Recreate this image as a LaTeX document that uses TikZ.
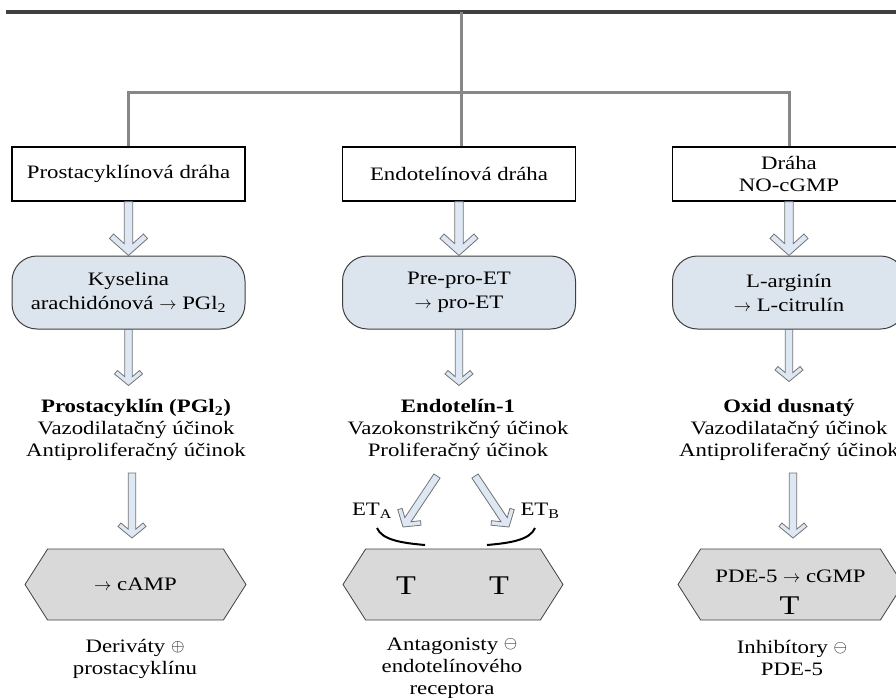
\documentclass[tikz,border=0pt]{standalone}
\usepackage{fontspec}
\setmainfont[FakeStretch=1.2]{Liberation Serif}
\usepackage{xcolor}
\definecolor{top-gray}{RGB}{64,64,64}
\definecolor{branch-gray}{RGB}{135,135,135}
\definecolor{box-blue}{RGB}{220,228,238}
\definecolor{arrow-blue}{RGB}{222,232,244}
\definecolor{hex-gray}{RGB}{217,217,217}
\usepackage{tikz}
\usetikzlibrary{calc,shapes.symbols}

\tikzset{
	pathbox/.style={draw=black,line width=1.3pt,fill=white,minimum width=233pt,
		minimum height=54pt,align=center,inner sep=0pt},
	stepround/.style={draw=black!75,line width=1pt,fill=box-blue,rounded corners=25pt,
		minimum width=233pt,minimum height=73pt,align=center,inner sep=0pt,
		font=\fontsize{19}{24}\selectfont},
	effect/.style={align=center,inner sep=0pt},
	hexbox/.style={draw=black!75,line width=0.8pt,fill=hex-gray,shape=signal,
		signal to=west and east,signal pointer angle=115,minimum width=221pt,
		minimum height=71pt,align=center,inner sep=0pt},
	blockarrow/.style={draw=black!55,line width=0.8pt,fill=arrow-blue,line join=miter},
	topline/.style={top-gray,line width=3.5pt},
	branch/.style={branch-gray,line width=3pt},
	etarc/.style={black,line width=2pt},
	bigT/.style={font=\fontsize{27}{30}\selectfont,inner sep=0pt}
}

% chevron head: shaft half width, arm reach, arm length, cap point, shaft corner
\def\shaftw{4.2}
\def\headw{19}
\def\headl{17}
\def\capu{21.5}
\def\capv{15}
\def\cornu{11.8}
\newcommand{\smallhead}{%
	\def\shaftw{3.7}\def\headw{14}\def\headl{11.5}%
	\def\capu{15}\def\capv{11.1}\def\cornu{8.8}}
\newcommand{\blockarrow}[2]{%
	\draw[blockarrow] let \p1=($(#2)-(#1)$), \n1={atan2(\y1,\x1)}, \n2={veclen(\x1,\y1)} in
	[shift={(#1)},rotate=\n1]
	(0,-\shaftw) -- (\n2-\cornu,-\shaftw) -- (\n2-\capu,-\capv) -- (\n2-\headl,-\headw)
	-- (\n2,0) -- (\n2-\headl,\headw) -- (\n2-\capu,\capv) -- (\n2-\cornu,\shaftw)
	-- (0,\shaftw) -- cycle;}
\newcommand{\sgn}[1]{\raisebox{1.5pt}{\fontsize{16}{16}\selectfont$#1$}}

\begin{document}
\begin{tikzpicture}[x=1pt,y=-1pt,font=\fontsize{19}{22}\selectfont]
	\useasboundingbox (0,0) rectangle (896,698);
	\clip (0,0) rectangle (896,698);
	
	% pathways
	\node[pathbox] (prosta) at (128.5,174) {Prostacyklínová dráha};
	\node[pathbox] (endo) at (459,174) {Endotelínová dráha};
	\node[pathbox] (nocgmp) at (789,174) {Dráha\\NO-cGMP};
	
	\coordinate (hub) at (461,12);
	\coordinate (split) at (461,93);
	\draw[topline] (6,12) -- (hub) -- (905,12);
	\draw[branch] (hub) -- (hub |- endo.north);
	\draw[branch] (prosta.north) |- (split) -| (nocgmp.north);
	
	% synthesis
	\node[stepround] (kysel) at (128.5,292.5) {Kyselina\\arachidónová $\rightarrow$ PGl\textsubscript{2}};
	\node[stepround] (prepro) at (459,292.5) {Pre-pro-ET\\$\rightarrow$ pro-ET};
	\node[stepround] (larg) at (789,292.5) {L-arginín\\$\rightarrow$ L-citrulín};
	
	\blockarrow{prosta.south}{kysel.north}
	\blockarrow{endo.south}{prepro.north}
	\blockarrow{nocgmp.south}{larg.north}
	
	% mediators
	\node[effect] (pgi) at (136,430) {\textbf{Prostacyklín (PGl\textsubscript{2})}\\Vazodilatačný účinok\\Antiproliferačný účinok};
	\node[effect] (et1) at (458,430) {\textbf{Endotelín-1}\\Vazokonstrikčný účinok\\Proliferačný účinok};
	\node[effect] (oxid) at (789,430) {\textbf{Oxid dusnatý}\\Vazodilatačný účinok\\Antiproliferačný účinok};
	
	\coordinate (kyselE) at ($(kysel.south)+(0,56)$);
	\coordinate (despE) at ($(prepro.south)+(0,56)$);
	\coordinate (largE) at ($(larg.south)+(0,52)$);
	\coordinate (pgiS) at (132,473);
	\coordinate (pgiE) at (132,538);
	\coordinate (oxidS) at (793,473);
	\coordinate (oxidE) at (793,538);
	\coordinate (etaS) at (437,476);
	\coordinate (etaE) at (403,527);
	\coordinate (etbS) at (475,476);
	\coordinate (etbE) at (509,527);
	\begin{scope}
		\smallhead
		\blockarrow{kysel.south}{kyselE}
		\blockarrow{prepro.south}{despE}
		\blockarrow{larg.south}{largE}
		\blockarrow{pgiS}{pgiE}
		\blockarrow{oxidS}{oxidE}
		\blockarrow{etaS}{etaE}
		\blockarrow{etbS}{etbE}
	\end{scope}
	
	% targets
	\node[hexbox] (camp) at (135.5,584.5) {$\rightarrow$ cAMP};
	\node[hexbox,minimum width=220pt] (etrec) at (453,584.5) {};
	\node[hexbox,minimum width=225pt] (pde) at (790.5,584.5) {};
	\node[bigT] (ta) at ($(etrec.center)+(-47,1)$) {T};
	\node[bigT] (tb) at ($(etrec.center)+(46,1)$) {T};
	\node (pdetxt) at ($(pde.center)+(0,-8)$) {PDE-5 $\rightarrow$ cGMP};
	\node[bigT] (tc) at ($(pde.center)+(-1,21)$) {T};
	
	% receptors
	\node (eta) at (372,511) {ET\textsubscript{A}};
	\node (etb) at (540,511) {ET\textsubscript{B}};
	\draw[etarc] (377,528) .. controls (382,540) and (402,543) .. (425,545);
	\draw[etarc] (487,545) .. controls (510,543) and (530,540) .. (535,528);
	
	% drugs
	\node[effect] (deriv) at (135,659) {Deriváty \sgn{\oplus}\\prostacyklínu};
	\node[effect] (antag) at (452,668) {Antagonisty \sgn{\ominus}\\endotelínového\\receptora};
	\node[effect] (inhib) at (792,658) {Inhibítory \sgn{\ominus}\\PDE-5};
\end{tikzpicture}
\end{document}
